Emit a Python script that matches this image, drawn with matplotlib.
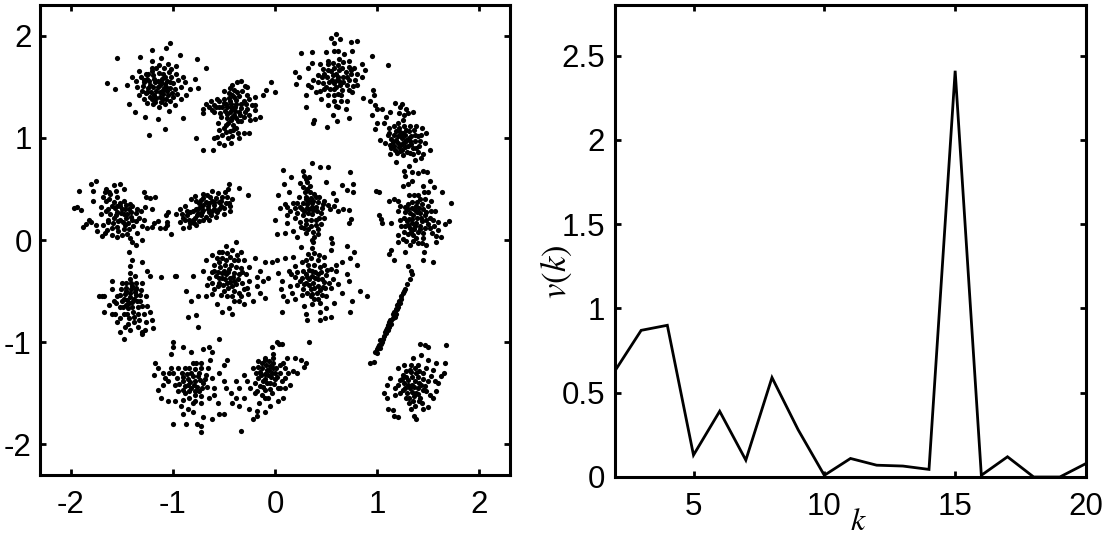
import matplotlib
matplotlib.use('Agg')
import matplotlib.pyplot as plt

plt.rcParams['font.family'] = ['Liberation Sans', 'DejaVu Sans']
plt.rcParams['mathtext.fontset'] = 'stix'
plt.rcParams['axes.unicode_minus'] = False

# blobs, one list per cluster
blob_a = [(-1.55,1.78),(-1.32,1.79),(-1.2,1.86),(-1.03,1.93),(-1.07,1.88),(-.93,1.81),(-.76,1.77),(-.68,1.68),(-1.64,1.54),(-1.57,1.48),
          (-1.43,1.33),(-1.37,1.25),(-1.23,1.03),(-1.08,1.09),(-.9,1.19),(-1.04,1.26),(-1.27,1.2),(-1.15,1.18),(-.75,1.49),(-.78,1.58),
          (-1.2,1.75),(-1.12,1.78),(-1.05,1.72),(-.97,1.7),(-1.33,1.65),(-1.26,1.62),(-1.4,1.6),(-1.45,1.52),(-1.35,1.5),(-1.28,1.55),
          (-1.2,1.65),(-1.16,1.68),(-1.1,1.62),(-1.02,1.6),(-.95,1.57),(-.88,1.55),(-.83,1.48),(-.87,1.42),(-.92,1.38),(-1.0,1.4),
          (-1.25,1.45),(-1.22,1.52),(-1.18,1.58),(-1.12,1.55),(-1.07,1.5),(-1.13,1.45),(-1.18,1.42),(-1.1,1.38),(-1.05,1.42),(-1.15,1.5),
          (-1.2,1.38),(-1.28,1.38),(-1.33,1.42),(-1.08,1.33),(-1.14,1.3),(-.98,1.32),(-1.25,1.58),(-1.03,1.55),(-1.17,1.35),(-1.1,1.47)]
core_a = [(-1.24,1.62),(-1.19,1.61),(-1.14,1.63),(-1.08,1.6),(-1.04,1.64),(-1.28,1.57),(-1.23,1.56),(-1.17,1.55),(-1.11,1.58),(-1.06,1.56),
          (-1.0,1.54),(-1.29,1.51),(-1.24,1.49),(-1.19,1.5),(-1.13,1.52),(-1.08,1.53),(-1.03,1.49),(-.98,1.48),(-1.26,1.44),(-1.21,1.45),
          (-1.16,1.46),(-1.1,1.43),(-1.06,1.46),(-1.01,1.44),(-.96,1.43),(-1.22,1.4),(-1.16,1.39),(-1.12,1.35),(-1.07,1.38),(-1.03,1.36),
          (-1.19,1.33),(-1.13,1.4),(-1.15,1.56),(-1.09,1.49),(-1.2,1.68),(-1.14,1.71),(-1.09,1.68),(-1.31,1.6),(-.92,1.5),(-.9,1.6),
          (-1.36,1.56),(-1.25,1.34),(-1.02,1.67),(-.97,1.62),(-1.3,1.46)]
blob_b = [(-.77,1.0),(-.7,.88),(-.61,.88),(-.6,1.0),(-.55,.95),(-.5,.93),(-.43,.95),(-.35,1.0),(-.3,1.05),(-.25,1.05),
          (.0,1.45),(-.04,1.55),(-.09,1.47),(-.12,1.42),(-.2,1.32),(-.15,1.2),(-.2,1.18),(-.37,1.55),(-.33,1.56),(-.42,1.52),
          (-.29,1.51),(-.27,1.5),(-.5,1.46),(-.68,1.33),(-.7,1.28),(-.7,1.24),(-.63,1.36),(-.57,1.38),(-.55,1.3),(-.6,1.25),
          (-.53,1.2),(-.47,1.23),(-.43,1.3),(-.38,1.37),(-.33,1.33),(-.27,1.28),(-.25,1.38),(-.2,1.4),(-.3,1.2),(-.36,1.16),
          (-.42,1.2),(-.46,1.15),(-.5,1.1),(-.44,1.07),(-.38,1.1),(-.52,1.03),(-.46,1.0),(-.42,1.28),(-.4,1.22),(-.47,1.3),
          (-.44,1.36),(-.39,1.3),(-.35,1.25),(-.5,1.34),(-.42,1.42),(-.37,1.45),(-.45,1.44),(-.6,1.32),(-.25,1.22),(-.41,1.13)]
core_b = [(-.55,1.36),(-.5,1.38),(-.45,1.39),(-.4,1.4),(-.35,1.41),(-.3,1.36),(-.58,1.3),(-.52,1.3),(-.48,1.33),(-.43,1.33),
          (-.38,1.33),(-.33,1.29),(-.28,1.33),(-.23,1.32),(-.54,1.24),(-.49,1.26),(-.44,1.25),(-.39,1.26),(-.34,1.22),(-.29,1.25),
          (-.47,1.19),(-.43,1.17),(-.38,1.19),(-.33,1.16),(-.48,1.13),(-.41,1.08),(-.36,1.05),(-.48,1.06),(-.42,1.02),(-.55,1.08),
          (-.65,1.3),(-.62,1.27),(-.4,1.47),(-.44,1.49),(-.32,1.46),(-.27,1.42),(-.2,1.27),(-.24,1.17),(-.56,1.15),(-.57,1.01)]
blob_c = [(.25,1.83),(.36,1.84),(.55,1.98),(.6,2.02),(.64,1.97),(.58,1.93),(.74,1.94),(.8,1.95),(.95,1.8),(1.11,1.71),
          (.2,1.64),(.23,1.6),(.21,1.53),(.32,1.68),(.36,1.73),(.5,1.84),(.58,1.85),(.75,1.85),(.72,1.75),(.85,1.72),
          (.88,1.66),(.85,1.6),(.96,1.47),(.97,1.42),(.3,1.3),(.38,1.17),(.37,1.15),(.51,1.11),(.57,1.22),(.61,1.16),
          (.72,1.19),(.69,1.28),(.86,1.39),(.93,1.36),(.3,1.42),(.4,1.45),(.32,1.52),(.45,1.38),(.52,1.32),(.6,1.31),
          (.7,1.36),(.75,1.45),(.8,1.52),(.5,1.5),(.56,1.57),(.6,1.62),(.66,1.68),(.7,1.6),(.64,1.52),(.58,1.48),
          (.48,1.62),(.44,1.72),(.52,1.75),(.63,1.77),(.67,1.55),(.61,1.57),(.55,1.65),(.42,1.55),(.74,1.62),(.62,1.43)]
core_c = [(.52,1.72),(.57,1.73),(.62,1.71),(.67,1.74),(.72,1.69),(.77,1.68),(.47,1.67),(.52,1.66),(.58,1.68),(.63,1.66),
          (.69,1.64),(.74,1.66),(.8,1.62),(.46,1.6),(.51,1.6),(.57,1.61),(.62,1.6),(.67,1.6),(.72,1.57),(.78,1.57),
          (.42,1.61),(.47,1.54),(.53,1.55),(.58,1.54),(.63,1.56),(.7,1.52),(.76,1.51),(.48,1.48),(.54,1.48),(.6,1.5),
          (.66,1.47),(.72,1.47),(.52,1.42),(.58,1.42),(.65,1.42),(.58,1.36),(.65,1.36),(.37,1.57),(.35,1.5),(.44,1.46),
          (.62,1.3),(.68,1.82),(.62,1.85)]
blob_d = [(.98,1.32),(1.0,1.28),(.95,1.22),(1.0,1.15),(.98,1.09),(1.05,1.28),(1.07,1.15),(1.13,1.25),(1.17,1.34),(1.24,1.33),
          (1.3,1.24),(1.35,1.25),(1.38,1.12),(1.44,1.1),(1.48,1.05),(1.47,.95),(1.52,.88),(1.45,.84),(1.43,.8),(1.37,.78),
          (1.31,.72),(1.26,.68),(1.27,.63),(1.34,.67),(1.4,.66),(1.45,.68),(1.49,.67),(1.18,.76),(1.13,.84),(1.08,.95),
          (1.03,.98),(1.11,1.03),(1.12,1.1),(1.2,1.15),(1.25,1.17),(1.32,1.12),(1.37,1.03),(1.42,.97),(1.38,.9),(1.32,.85),
          (1.25,.83),(1.17,.88),(1.15,.96),(1.2,1.02),(1.25,1.05),(1.28,.98),(1.23,.93),(1.2,.95),(1.27,.91),(1.31,1.0),
          (1.24,1.0),(1.18,1.07),(1.33,.94),(1.22,.87),(1.28,1.08)]
core_d = [(1.16,1.12),(1.21,1.1),(1.26,1.12),(1.31,1.07),(1.36,1.08),(1.12,1.05),(1.16,1.03),(1.22,1.06),(1.27,1.03),(1.33,1.02),
          (1.4,1.02),(1.14,.99),(1.18,.98),(1.23,1.02),(1.27,.96),(1.32,.97),(1.37,.97),(1.16,.92),(1.21,.91),(1.25,.95),
          (1.3,.92),(1.35,.9),(1.41,.92),(1.19,.85),(1.24,.88),(1.29,.86),(1.35,.84),(1.14,.9),(1.26,1.22),(1.21,1.24),
          (1.28,1.28),(1.22,1.3),(1.09,1.2),(1.43,1.03),(1.13,.93),(1.4,.86)]
blob_e = [(-1.94,.32),(-1.9,.29),(-1.97,.31),(-1.85,.16),(-1.92,.48),(-1.88,.13),(-1.8,.55),(-1.75,.58),(-1.78,.48),(-1.78,.38),
          (-1.82,.2),(-1.8,.18),(-1.75,.15),(-1.74,.09),(-1.69,.04),(-1.65,.5),(-1.58,.54),(-1.52,.55),(-1.48,.5),(-1.28,.47),
          (-1.26,.42),(-1.22,.41),(-1.17,.42),(-1.2,.3),(-1.15,.19),(-1.2,.13),(-1.13,.12),(-1.08,.12),(-1.25,.12),(-1.18,.17),
          (-1.3,.14),(-1.35,.07),(-1.42,.02),(-1.4,-.02),(-1.36,-.05),(-1.3,.0),(-1.5,.05),(-1.6,.05),(-1.68,.15),(-1.7,.25),
          (-1.68,.42),(-1.62,.4),(-1.55,.42),(-1.48,.38),(-1.42,.35),(-1.35,.3),(-1.33,.22),(-1.4,.2),(-1.47,.15),(-1.55,.13),
          (-1.63,.18),(-1.65,.28),(-1.6,.33),(-1.55,.27),(-1.5,.3),(-1.45,.25),(-1.52,.2),(-1.58,.22),(-1.48,.25),(-1.55,.33),(-1.43,.3),(-1.62,.47)]
core_e = [(-1.66,.47),(-1.61,.45),(-1.56,.48),(-1.65,.38),(-1.58,.37),(-1.52,.36),(-1.46,.34),(-1.4,.33),(-1.63,.3),(-1.57,.31),
          (-1.52,.33),(-1.47,.3),(-1.41,.27),(-1.36,.26),(-1.31,.28),(-1.61,.25),(-1.56,.24),(-1.51,.26),(-1.46,.22),(-1.41,.23),
          (-1.36,.19),(-1.63,.2),(-1.59,.17),(-1.54,.19),(-1.49,.18),(-1.44,.17),(-1.39,.14),(-1.6,.12),(-1.54,.09),(-1.48,.11),
          (-1.43,.11),(-1.64,.1),(-1.45,.06),(-1.28,.2),(-1.7,.32),(-1.55,.03),(-1.66,.07),(-1.27,.32)]
blob_f = [(-1.07,.24),(-1.06,.18),(-1.06,.15),(-1.02,.06),(-.93,.18),(-.9,.12),(-.84,.13),(-.77,.15),(-1.05,.27),(-.97,.25),
          (-.93,.3),(-.88,.33),(-.82,.4),(-.78,.43),(-.7,.45),(-.62,.48),(-.56,.46),(-.45,.55),(-.46,.5),(-.35,.51),
          (-.26,.44),(-.45,.36),(-.42,.4),(-.44,.33),(-.44,.28),(-.5,.25),(-.58,.23),(-.65,.2),(-.7,.2),(-.8,.2),
          (-.86,.24),(-.83,.27),(-.77,.3),(-.72,.33),(-.68,.37),(-.62,.38),(-.55,.37),(-.52,.42),(-.6,.3),(-.65,.27),
          (-.72,.24),(-.75,.26),(-.7,.29),(-.74,.36),(-.66,.33),(-.6,.34),(-.53,.33),(-.78,.22),(-.9,.22),(-.49,.47)]
core_f = [(-.83,.17),(-.79,.17),(-.74,.19),(-.68,.23),(-.63,.24),(-.88,.2),(-.84,.2),(-.76,.24),(-.71,.27),(-.66,.3),
          (-.62,.28),(-.57,.27),(-.8,.28),(-.74,.31),(-.7,.34),(-.65,.36),(-.6,.37),(-.55,.3),(-.5,.31),(-.77,.38),
          (-.7,.41),(-.64,.42),(-.58,.41),(-.53,.38),(-.48,.36),(-.72,.39),(-.67,.44),(-.47,.42),(-.91,.25),(-.86,.28)]
blob_g = [(-.0,.2),(.02,.06),(.1,.07),(.08,.69),(.16,.62),(.27,.68),(.36,.75),(.44,.71),(.52,.71),(.73,.67),
          (.03,.44),(.05,.31),(.12,.17),(.14,.47),(.09,.55),(.24,.56),(.3,.6),(.33,.62),(.5,.57),(.66,.54),
          (.76,.55),(.7,.49),(.76,.47),(.72,.29),(.74,.21),(.72,.17),(.67,.3),(.6,.39),(.57,.46),(.12,.32),
          (.18,.36),(.23,.42),(.3,.42),(.38,.45),(.43,.42),(.48,.38),(.52,.34),(.45,.26),(.4,.2),(.35,.14),
          (.3,.07),(.38,.03),(.42,.06),(.25,.13),(.2,.22),(.15,.28),(.28,.28),(.33,.3),(.36,.36),(.31,.35),
          (.24,.32),(.4,.32),(.36,.25),(.3,.2),(.27,.52),(.31,.5),(.18,.09),(.22,.03),(.36,.0),(.55,.02)]
core_g = [(.28,.63),(.31,.57),(.34,.53),(.29,.47),(.34,.47),(.3,.4),(.35,.41),(.4,.42),(.22,.36),(.27,.36),
          (.32,.38),(.37,.38),(.42,.37),(.47,.35),(.2,.31),(.26,.3),(.31,.31),(.36,.32),(.41,.28),(.46,.31),
          (.54,.3),(.22,.26),(.27,.24),(.32,.26),(.37,.29),(.43,.22),(.48,.22),(.24,.18),(.3,.16),(.35,.2),
          (.4,.15),(.45,.16),(.32,.11),(.37,.08),(.42,.11),(.28,.12),(.12,.24),(.58,.33),(.62,.28),(.1,.35)]
blob_h = [(.99,.48),(1.02,.47),(1.02,.24),(1.04,.21),(1.05,.17),(1.16,.4),(1.12,.38),(1.2,.38),(1.25,.53),(1.3,.55),
          (1.34,.58),(1.45,.53),(1.52,.58),(1.56,.52),(1.63,.47),(1.72,.36),(1.7,.19),(1.66,.16),(1.6,.1),(1.58,.04),
          (1.58,-.02),(1.48,-.05),(1.44,-.03),(1.2,-.02),(1.2,.05),(1.14,.17),(1.22,.33),(1.2,.28),(1.27,.32),(1.31,.44),
          (1.4,.44),(1.46,.47),(1.5,.47),(1.53,.38),(1.57,.28),(1.55,.2),(1.52,.12),(1.45,.07),(1.38,.02),(1.32,-.05),
          (1.26,.08),(1.3,.15),(1.26,.22),(1.3,.3),(1.38,.33),(1.45,.3),(1.43,.22),(1.38,.17),(1.35,.24),(1.42,.14),
          (1.33,.08),(1.36,.11),(1.31,.21),(1.39,.27),(1.48,.2),(1.34,.17),(1.14,-.1),(1.12,-.14),(1.27,-.12),(1.16,-.2),
          (1.3,-.25),(1.45,-.2),(1.46,-.12),(1.55,-.22)]
core_h = [(1.36,.44),(1.42,.4),(1.47,.4),(1.34,.37),(1.39,.37),(1.44,.35),(1.5,.33),(1.3,.35),(1.34,.31),(1.41,.31),
          (1.48,.27),(1.53,.28),(1.27,.27),(1.32,.26),(1.37,.29),(1.42,.26),(1.47,.24),(1.52,.22),(1.29,.19),(1.34,.21),
          (1.39,.22),(1.44,.19),(1.5,.16),(1.56,.14),(1.27,.14),(1.32,.12),(1.37,.14),(1.42,.11),(1.47,.12),(1.3,.06),
          (1.35,.05),(1.4,.08),(1.45,.02),(1.35,-.01),(1.4,-.03),(1.23,.14),(1.22,.2),(1.25,.01),(1.54,.07),(1.6,.18),
          (1.62,.03),(1.28,-.01)]
blob_i = [(-.97,-.35),(-.8,-.35),(-.87,-.5),(-.82,-.6),(-.85,-.75),(-.77,-.73),(-.75,-.55),(-.67,-.44),(-.6,-.3),(-.68,-.2),
          (-.62,-.15),(-.55,-.12),(-.48,-.06),(-.38,-.02),(-.33,-.12),(-.2,-.18),(-.1,-.22),(-.03,-.22),(.03,-.32),(-.07,-.37),
          (-.12,-.4),(-.18,-.45),(-.15,-.52),(-.1,-.57),(-.22,-.6),(-.3,-.63),(-.35,-.6),(-.45,-.67),(-.42,-.72),(-.52,-.7),
          (-.57,-.63),(-.62,-.53),(-.68,-.55),(-.55,-.22),(-.48,-.2),(-.4,-.2),(-.33,-.27),(-.28,-.33),(-.25,-.4),(-.3,-.48),
          (-.35,-.52),(-.42,-.55),(-.5,-.5),(-.55,-.42),(-.58,-.35),(-.5,-.3),(-.45,-.28),(-.4,-.32),(-.36,-.38),(-.42,-.45),
          (-.47,-.42),(-.52,-.37),(-.44,-.37),(-.48,-.33),(-.4,-.4),(-.62,-.42),(-.25,-.26),(-.15,-.3),(.02,-.2)]
core_i = [(-.52,-.12),(-.47,-.13),(-.42,-.1),(-.37,-.15),(-.57,-.18),(-.52,-.18),(-.44,-.17),(-.36,-.2),(-.3,-.2),(-.6,-.24),
          (-.54,-.26),(-.49,-.24),(-.43,-.24),(-.38,-.26),(-.32,-.31),(-.62,-.31),(-.56,-.31),(-.52,-.32),(-.46,-.31),(-.41,-.36),
          (-.35,-.33),(-.55,-.37),(-.49,-.38),(-.44,-.41),(-.38,-.43),(-.32,-.42),(-.27,-.47),(-.56,-.45),(-.51,-.44),(-.46,-.47),
          (-.4,-.5),(-.33,-.55),(-.53,-.54),(-.47,-.55),(-.4,-.6),(-.6,-.48),(-.26,-.53),(-.65,-.37),(-.7,-.3),(-.18,-.36)]
blob_j = [(.1,-.18),(.18,-.17),(.25,-.07),(.36,-.08),(.37,-.02),(.55,-.1),(.56,-.03),(.7,-.06),(.77,-.12),(.73,-.18),
          (.8,-.24),(.66,-.22),(.6,-.3),(.7,-.33),(.72,-.4),(.83,-.5),(.9,-.55),(.75,-.6),(.73,-.7),(.07,-.4),
          (.06,-.48),(.08,-.55),(.07,-.7),(.12,-.6),(.2,-.58),(.28,-.65),(.3,-.72),(.31,-.78),(.44,-.78),(.49,-.76),
          (.55,-.75),(.44,-.7),(.5,-.67),(.58,-.62),(.66,-.52),(.16,-.33),(.14,-.3),(.2,-.25),(.3,-.2),(.35,-.18),
          (.42,-.2),(.48,-.24),(.55,-.28),(.57,-.38),(.55,-.47),(.5,-.55),(.42,-.58),(.35,-.55),(.27,-.48),(.24,-.4),
          (.3,-.33),(.36,-.3),(.42,-.33),(.46,-.38),(.42,-.45),(.37,-.42),(.33,-.38),(.39,-.37),(.35,-.48),(.47,-.46),(.3,-.42)]
core_j = [(.32,-.14),(.38,-.13),(.43,-.15),(.48,-.17),(.26,-.22),(.32,-.24),(.38,-.24),(.44,-.26),(.51,-.29),(.22,-.31),
          (.27,-.3),(.33,-.29),(.39,-.31),(.45,-.31),(.5,-.34),(.2,-.36),(.26,-.37),(.31,-.36),(.36,-.35),(.42,-.38),
          (.48,-.41),(.53,-.42),(.22,-.44),(.28,-.43),(.33,-.44),(.38,-.47),(.44,-.49),(.49,-.47),(.26,-.54),(.31,-.52),
          (.36,-.53),(.41,-.52),(.46,-.54),(.38,-.58),(.44,-.62),(.36,-.63),(.15,-.45),(.62,-.43),(.17,-.52),(.6,-.24)]
blob_k = [(-1.43,-.12),(-1.4,-.2),(-1.42,-.25),(-1.3,-.22),(-1.12,-.36),(-.98,-.35),(-1.67,-.55),(-1.69,-.55),(-1.72,-.55),(-1.6,-.48),
          (-1.6,-.4),(-1.67,-.7),(-1.6,-.72),(-1.57,-.72),(-1.55,-.8),(-1.47,-.85),(-1.52,-.9),(-1.48,-.97),(-1.42,-.88),(-1.34,-.85),
          (-1.3,-.92),(-1.27,-.88),(-1.26,-.8),(-1.2,-.78),(-1.19,-.86),(-1.22,-.7),(-1.25,-.65),(-1.26,-.55),(-1.3,-.42),(-1.25,-.3),
          (-1.22,-.35),(-1.5,-.42),(-1.55,-.55),(-1.56,-.62),(-1.52,-.66),(-1.45,-.72),(-1.38,-.75),(-1.34,-.66),(-1.32,-.6),(-1.36,-.48),
          (-1.4,-.45),(-1.46,-.5),(-1.48,-.58),(-1.43,-.62),(-1.38,-.58),(-1.42,-.52),(-1.4,-.66),(-1.36,-.54),(-1.46,-.64),(-1.37,-.35),(-1.42,-.38)]
core_k = [(-1.46,-.42),(-1.41,-.42),(-1.36,-.42),(-1.51,-.48),(-1.46,-.47),(-1.41,-.48),(-1.36,-.47),(-1.31,-.49),(-1.52,-.54),(-1.47,-.53),
          (-1.42,-.56),(-1.37,-.51),(-1.32,-.54),(-1.5,-.6),(-1.45,-.59),(-1.4,-.61),(-1.35,-.6),(-1.3,-.65),(-1.49,-.66),(-1.44,-.67),
          (-1.39,-.7),(-1.34,-.72),(-1.48,-.72),(-1.43,-.76),(-1.38,-.8),(-1.44,-.82),(-1.28,-.72),(-1.52,-.76),(-1.58,-.6),(-1.62,-.64),
          (-1.42,-.32),(-1.33,-.78)]
blob_l = [(.93,-1.2),(.97,-1.19),(.98,-1.1),(1.0,-1.07),(1.02,-1.03),(1.03,-.98),(1.05,-1.0),(1.07,-.94),(1.08,-.9),(1.1,-.86),
          (1.11,-.83),(1.13,-.78),(1.14,-.82),(1.15,-.72),(1.17,-.75),(1.18,-.68),(1.2,-.66),(1.21,-.6),(1.23,-.58),(1.25,-.52),
          (1.27,-.48),(1.29,-.43),(1.32,-.38),(1.34,-.33),(1.33,-.3),(1.16,-.7),(1.12,-.8),(1.09,-.88),(1.19,-.64),(1.04,-1.02)]
core_l = [(1.0,-1.11),(1.01,-1.05),(1.03,-1.06),(1.06,-.97),(1.09,-.91),(1.11,-.88),(1.12,-.85),(1.14,-.78),(1.15,-.76),(1.16,-.74),
          (1.17,-.71),(1.18,-.72),(1.19,-.68),(1.2,-.63),(1.22,-.62),(1.23,-.55),(1.26,-.5)]
blob_m = [(-1.3,-.9),(-1.0,-1.0),(-.75,-.85),(-.55,-.97),(-1.17,-1.2),(-1.15,-1.25),(-1.0,-1.05),(-1.02,-1.12),(-.9,-1.05),(-.82,-1.1),
          (-.7,-1.07),(-.65,-1.05),(-.62,-1.1),(-.47,-1.17),(-.5,-1.22),(-.55,-1.3),(-.5,-1.38),(-.48,-1.45),(-.43,-1.5),(-.38,-1.55),
          (-.35,-1.62),(-.42,-1.6),(-.5,-1.7),(-.55,-1.7),(-.62,-1.75),(-.7,-1.73),(-.72,-1.82),(-.76,-1.8),(-.72,-1.88),(-.87,-1.8),
          (-1.0,-1.8),(-.9,-1.7),(-.92,-1.62),(-.98,-1.58),(-1.05,-1.58),(-1.12,-1.55),(-1.15,-1.47),(-1.18,-1.32),(-1.1,-1.3),(-1.02,-1.25),
          (-.95,-1.25),(-.88,-1.25),(-.8,-1.2),(-.72,-1.2),(-.66,-1.25),(-.62,-1.35),(-.6,-1.45),(-.65,-1.55),(-.72,-1.6),(-.8,-1.6),
          (-.88,-1.5),(-.98,-1.42),(-.9,-1.38),(-.82,-1.3),(-.75,-1.33),(-.7,-1.4),(-.74,-1.48),(-.82,-1.45),(-.78,-1.38),(-.85,-1.42),
          (-.68,-1.32),(-1.05,-1.38),(-1.1,-1.42),(-.56,-1.6),(-.78,-1.52)]
core_m = [(-.77,-1.2),(-.72,-1.25),(-.84,-1.25),(-.78,-1.26),(-.91,-1.3),(-.86,-1.31),(-.8,-1.33),(-.74,-1.3),(-.69,-1.36),(-.96,-1.35),
          (-.9,-1.34),(-.85,-1.36),(-.79,-1.42),(-.73,-1.37),(-.67,-1.44),(-.94,-1.41),(-.88,-1.43),(-.83,-1.39),(-.76,-1.44),(-.71,-1.45),
          (-.9,-1.47),(-.84,-1.48),(-.78,-1.48),(-.72,-1.53),(-.84,-1.55),(-.78,-1.58),(-.9,-1.57),(-.85,-1.65),(-.8,-1.68),(-.95,-1.48),
          (-1.04,-1.3),(-1.0,-1.3),(-1.08,-1.35),(-.64,-1.17),(-.6,-1.52)]
blob_n = [(-.33,-1.87),(-.22,-1.75),(-.18,-1.72),(.33,-1.0),(.3,-1.2),(.28,-1.24),(.02,-1.0),(.04,-1.02),(.07,-1.02),(-.03,-1.05),
          (-.02,-1.12),(.12,-1.15),(.2,-1.15),(.25,-1.17),(.22,-1.3),(.18,-1.28),(.15,-1.42),(.1,-1.45),(.08,-1.55),(.03,-1.58),
          (-.05,-1.62),(-.1,-1.68),(-.18,-1.67),(-.25,-1.65),(-.3,-1.55),(-.35,-1.45),(-.38,-1.38),(-.3,-1.32),(-.27,-1.38),(-.22,-1.25),
          (-.17,-1.18),(-.1,-1.17),(-.02,-1.2),(.05,-1.22),(.1,-1.25),(.1,-1.35),(.03,-1.45),(-.03,-1.5),(-.1,-1.55),(-.18,-1.48),
          (-.2,-1.4),(-.14,-1.32),(-.08,-1.27),(-.03,-1.3),(.0,-1.36),(-.05,-1.4),(-.1,-1.36),(-.07,-1.32),(-.12,-1.44),(-.02,-1.25),(-.16,-1.6)]
core_n = [(-.1,-1.15),(-.06,-1.18),(-.02,-1.15),(-.13,-1.2),(-.09,-1.22),(-.05,-1.23),(.01,-1.25),(-.17,-1.24),(-.13,-1.25),(-.06,-1.27),
          (.0,-1.3),(.05,-1.3),(-.19,-1.3),(-.15,-1.29),(-.1,-1.31),(-.04,-1.34),(.02,-1.34),(.07,-1.38),(-.17,-1.35),(-.12,-1.38),
          (-.08,-1.4),(-.01,-1.41),(.05,-1.45),(-.15,-1.43),(-.1,-1.47),(-.05,-1.46),(-.13,-1.52),(-.07,-1.55),(-.2,-1.5),(-.24,-1.45),
          (.13,-1.3),(.08,-1.2)]
blob_o = [(1.42,-1.02),(1.47,-1.03),(1.5,-1.05),(1.67,-1.03),(1.66,-1.2),(1.65,-1.3),(1.58,-1.2),(1.5,-1.17),(1.43,-1.13),(1.35,-1.15),
          (1.26,-1.22),(1.2,-1.25),(1.13,-1.35),(1.1,-1.42),(1.07,-1.5),(1.1,-1.55),(1.11,-1.65),(1.15,-1.66),(1.16,-1.72),(1.2,-1.73),
          (1.36,-1.72),(1.38,-1.75),(1.33,-1.65),(1.45,-1.65),(1.5,-1.63),(1.55,-1.55),(1.58,-1.48),(1.6,-1.4),(1.62,-1.33),(1.55,-1.27),
          (1.48,-1.25),(1.4,-1.22),(1.32,-1.27),(1.25,-1.32),(1.2,-1.42),(1.22,-1.5),(1.28,-1.55),(1.35,-1.58),(1.42,-1.55),(1.48,-1.48),
          (1.5,-1.38),(1.45,-1.3),(1.38,-1.3),(1.3,-1.37),(1.32,-1.45),(1.38,-1.5),(1.43,-1.42),(1.37,-1.38),(1.34,-1.42),(1.4,-1.45),(1.27,-1.45)]
core_o = [(1.33,-1.22),(1.37,-1.25),(1.28,-1.28),(1.33,-1.29),(1.41,-1.28),(1.24,-1.36),(1.28,-1.34),(1.34,-1.34),(1.4,-1.34),(1.45,-1.36),
          (1.22,-1.37),(1.26,-1.4),(1.3,-1.42),(1.36,-1.44),(1.41,-1.4),(1.47,-1.43),(1.25,-1.47),(1.29,-1.5),(1.34,-1.49),(1.4,-1.51),
          (1.45,-1.47),(1.31,-1.55),(1.36,-1.53),(1.41,-1.58),(1.31,-1.6),(1.37,-1.62),(1.44,-1.6),(1.17,-1.45),(1.17,-1.52),(1.52,-1.52),
          (1.53,-1.33),(1.57,-1.38)]

blobs = [blob_a, core_a, blob_b, core_b, blob_c, core_c, blob_d, core_d, blob_e, core_e,
         blob_f, core_f, blob_g, core_g, blob_h, core_h, blob_i, core_i, blob_j, core_j,
         blob_k, core_k, blob_l, core_l, blob_m, core_m, blob_n, core_n, blob_o, core_o]

# v(k) curve
k_values = list(range(2, 21))
v_values = [0.63, 0.87, 0.90, 0.13, 0.39, 0.10, 0.59, 0.28, 0.01, 0.11,
            0.07, 0.065, 0.045, 2.41, 0.01, 0.12, 0.0, 0.0, 0.08]

left_ticks = [-2, -1, 0, 1, 2]
k_ticks = [5, 10, 15, 20]
v_ticks = [0, 0.5, 1, 1.5, 2, 2.5]
v_tick_labels = ['0', '0.5', '1', '1.5', '2', '2.5']

W, H = 1103, 537
fig = plt.figure(figsize=(W / 100, H / 100), dpi=100)
ax1 = fig.add_axes([40 / W, 1 - 475 / H, 470 / W, 470 / H])
ax2 = fig.add_axes([615 / W, 1 - 477 / H, 471 / W, 472 / H])

for blob in blobs:
    xs = [p[0] for p in blob]
    ys = [p[1] for p in blob]
    ax1.scatter(xs, ys, s=14, c='black', linewidths=0)
ax1.set_xlim(-2.3, 2.3)
ax1.set_ylim(-2.3, 2.3)
ax1.set_xticks(left_ticks)
ax1.set_yticks(left_ticks)

ax2.plot(k_values, v_values, color='black', linewidth=2.0, solid_joinstyle='miter')
ax2.set_xlim(2, 20)
ax2.set_ylim(0, 2.8)
ax2.set_xticks(k_ticks)
ax2.set_yticks(v_ticks)
ax2.set_yticklabels(v_tick_labels)

for ax in (ax1, ax2):
    ax.tick_params(direction='in', top=True, right=True, length=4, width=2, labelsize=22.5)
    ax.tick_params(axis='x', pad=11)
    for spine in ax.spines.values():
        spine.set_linewidth(2.2)
ax1.tick_params(axis='y', pad=6)
ax2.tick_params(axis='y', pad=7)

ax2.set_xlabel(r'$k$', fontsize=23)
ax2.xaxis.set_label_coords((858 - 615) / 471, -0.064, transform=ax2.transAxes)
ax2.set_ylabel(r'$v(k)$', fontsize=25)
ax2.yaxis.set_label_coords((574 - 615) / 471, (477 - 272) / 472, transform=ax2.transAxes)

fig.savefig('out.png', dpi=100)
